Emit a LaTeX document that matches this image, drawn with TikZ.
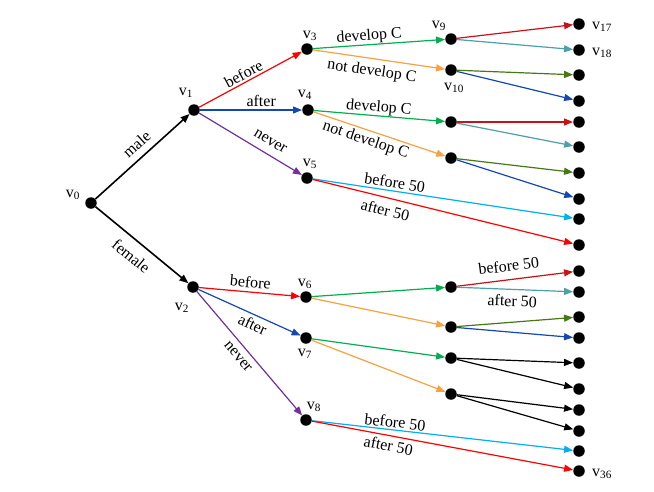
\documentclass[tikz,border=0pt]{standalone}
\usepackage{fontspec}
\setmainfont{Liberation Serif}
\usetikzlibrary{arrows.meta}
\definecolor{cred}{RGB}{255,0,0}
\definecolor{cdred}{RGB}{204,16,24}
\definecolor{cblue}{RGB}{20,70,180}
\definecolor{cpurple}{RGB}{112,48,160}
\definecolor{cgreen}{RGB}{0,176,80}
\definecolor{corange}{RGB}{250,160,60}
\definecolor{ccyan}{RGB}{0,176,240}
\definecolor{cteal}{RGB}{75,160,170}
\definecolor{colive}{RGB}{70,120,20}
\begin{document}
\begin{tikzpicture}[x=1pt,y=-1pt,
  dot/.style={circle,fill=black,inner sep=0pt,minimum size=11.5pt},
  edge/.style={line width=1.2pt,-{Triangle[length=9pt,width=7pt]}},
  bedge/.style={edge,line width=1.6pt,black},
  lab/.style={sloped,anchor=center,inner sep=0pt,yshift=#1,text=black,font=\fontsize{16}{19}\selectfont},
  vl/.style={inner sep=0pt,font=\fontsize{16}{19}\selectfont}]
\useasboundingbox (0,0) rectangle (654,491);
% level 0-2
\node[dot] (v0) at (91,203) {};
\node[dot] (v1) at (194,110) {};
\node[dot] (v2) at (193,287) {};
\node[dot] (v3) at (307,49) {};
\node[dot] (v4) at (308,110) {};
\node[dot] (v5) at (307,178) {};
\node[dot] (v6) at (306,297) {};
\node[dot] (v7) at (306,338) {};
\node[dot] (v8) at (306,420) {};
% level 3
\node[dot] (v9) at (451,39) {};
\node[dot] (v10) at (451,70) {};
\node[dot] (v11) at (451,122) {};
\node[dot] (v12) at (451,158) {};
\node[dot] (v13) at (451,287) {};
\node[dot] (v14) at (451,327) {};
\node[dot] (v15) at (451,358) {};
\node[dot] (v16) at (451,394) {};
% leaves
\foreach \i/\y in {1/24,2/50,3/75,4/101,5/122,6/147,7/173,8/199,9/219,10/245,
  11/271,12/292,13/317,14/338,15/363,16/389,17/410,18/431,19/451,20/471}
  \node[dot] (L\i) at (579,\y) {};
% vertex labels
\node[vl] (t0) at (73,195) {v\textsubscript{0}};
\node[vl] (t1) at (186,93) {v\textsubscript{1}};
\node[vl] (t2) at (182,308) {v\textsubscript{2}};
\node[vl] (t3) at (310,36) {v\textsubscript{3}};
\node[vl] (t4) at (305,95) {v\textsubscript{4}};
\node[vl] (t5) at (310,164) {v\textsubscript{5}};
\node[vl] (t6) at (305,284) {v\textsubscript{6}};
\node[vl] (t7) at (305,354) {v\textsubscript{7}};
\node[vl] (t8) at (314,407) {v\textsubscript{8}};
\node[vl] (t9) at (439,26) {v\textsubscript{9}};
\node[vl] (t10) at (454,88) {v\textsubscript{10}};
\node[vl] (t17) at (602,27) {v\textsubscript{17}};
\node[vl] (t18) at (602,53) {v\textsubscript{18}};
\node[vl] (t36) at (602,474) {v\textsubscript{36}};
% edges
\draw[bedge] (v0) -- node[lab=13pt,pos=.53]{male} (v1);
\draw[bedge] (v0) -- node[lab=-15.5pt,pos=.49]{female} (v2);
\draw[edge,cred] (v1) -- node[lab=8.5pt,pos=.47]{before} (v3);
\draw[edge,cblue] (v1) -- node[lab=9pt,pos=.6]{after} (v4);
\draw[edge,cpurple] (v1) -- node[lab=12.5pt,pos=.63]{never} (v5);
\draw[edge,cgreen] (v3) -- node[lab=8.5pt,pos=.43]{develop C} (v9);
\draw[edge,corange] (v3) -- node[lab=-13pt,pos=.46]{not develop C} (v10);
\draw[edge,cgreen] (v4) -- node[lab=8pt,pos=.49]{develop C} (v11);
\draw[edge,corange] (v4) -- node[lab=-10.5pt,pos=.42]{not develop C} (v12);
\draw[edge,ccyan] (v5) -- node[lab=8.5pt,pos=.31]{before 50} (L9);
\draw[edge,cred] (v5) -- node[lab=-12.5pt,pos=.29]{after 50} (L10);
\draw[edge,cdred] (v9) -- (L1);
\draw[edge,cteal] (v9) -- (L2);
\draw[edge,colive] (v10) -- (L3);
\draw[edge,cblue] (v10) -- (L4);
\draw[edge,cdred] (v11) -- (L5);
\draw[edge,cteal] (v11) -- (L6);
\draw[edge,colive] (v12) -- (L7);
\draw[edge,cblue] (v12) -- (L8);
\draw[edge,cred] (v2) -- node[lab=10pt,pos=.5]{before} (v6);
\draw[edge,cblue] (v2) -- node[lab=-9.5pt,pos=.57]{after} (v7);
\draw[edge,cpurple] (v2) -- node[lab=-11pt,pos=.47]{never} (v8);
\draw[edge,cgreen] (v6) -- (v13);
\draw[edge,corange] (v6) -- (v14);
\draw[edge,cgreen] (v7) -- (v15);
\draw[edge,corange] (v7) -- (v16);
\draw[edge,cdred] (v13) -- node[lab=14pt,pos=.46]{before 50} (L11);
\draw[edge,cteal] (v13) -- node[lab=-11.5pt,pos=.48]{after 50} (L12);
\draw[edge,colive] (v14) -- (L13);
\draw[edge,cblue] (v14) -- (L14);
\draw[edge,black] (v15) -- (L15);
\draw[edge,black] (v15) -- (L16);
\draw[edge,black] (v16) -- (L17);
\draw[edge,black] (v16) -- (L18);
\draw[edge,ccyan] (v8) -- node[lab=8pt,pos=.315]{before 50} (L19);
\draw[edge,cred] (v8) -- node[lab=-10pt,pos=.30]{after 50} (L20);
\end{tikzpicture}
\end{document}
